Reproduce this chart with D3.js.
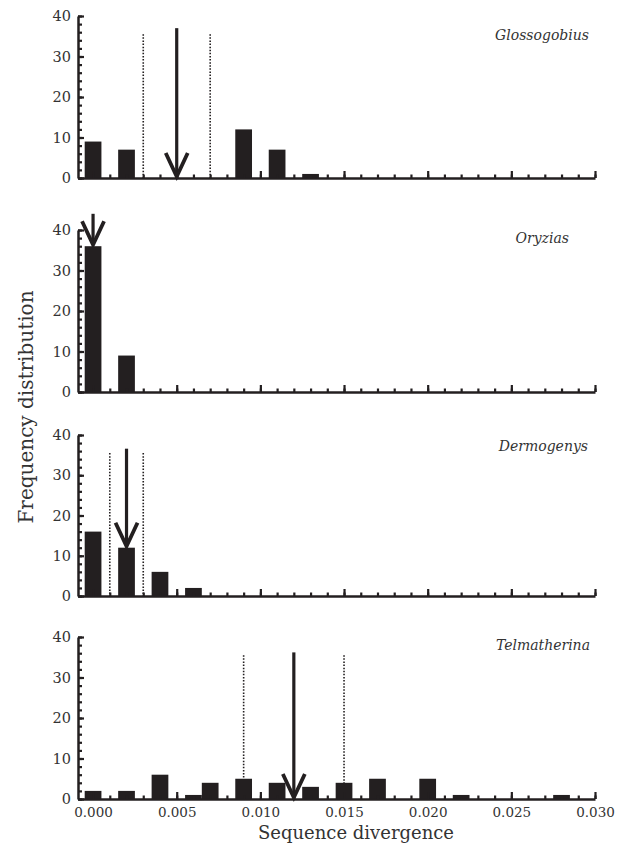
<!DOCTYPE html>
<html>
<head>
  <script src="https://d3js.org/d3.v7.min.js"></script>
  <style>
    body { margin: 0; background: #fff; }
    svg text { font-family: "DejaVu Serif", "Liberation Serif", serif; fill: #333; }
    .axis path, .axis line { stroke: #231f20; stroke-width: 2.2; }
    .axis .domain { stroke-width: 2.5; }
    .bar { fill: #231f20; }
    .ci { stroke: #231f20; stroke-width: 1.6; stroke-dasharray: 1.5,1.6; }
    .arrow { stroke: #231f20; fill: none; }
    .species { font-style: italic; font-size: 14px; }
  </style>
</head>
<body>
  <div id="chart"></div>
  <script>
    var w = 621;
    var h = 846;

    // data
    var species = ["Glossogobius", "Oryzias", "Dermogenys", "Telmatherina"];

    var glossoDiv = [0.000, 0.002, 0.009, 0.011, 0.013];
    var glossoFreq = [9, 7, 12, 7, 1];

    var oryziasDiv = [0.000, 0.002];
    var oryziasFreq = [36, 9];

    var dermoDiv = [0.000, 0.002, 0.004, 0.006];
    var dermoFreq = [16, 12, 6, 2];

    var telmaDiv = [0.000, 0.002, 0.004, 0.006, 0.007, 0.009, 0.011, 0.013, 0.015, 0.017, 0.020, 0.022, 0.028];
    var telmaFreq = [2, 2, 6, 1, 4, 5, 4, 3, 4, 5, 5, 1, 1];

    // mean divergence (arrow) and interval (dotted lines)
    var meanDiv = [0.005, 0.000, 0.002, 0.012];
    var arrowTop = [37, 44, 36.6, 36.2];
    var arrowTip = [0, 36, 12, 0];
    var ciLow = [0.003, null, 0.001, 0.009];
    var ciHigh = [0.007, null, 0.003, 0.015];
    var ciTop = 35.5;

    var yTicks = [0, 10, 20, 30, 40];
    var xTicks = [0.000, 0.005, 0.010, 0.015, 0.020, 0.025, 0.030];

    var divs = [glossoDiv, oryziasDiv, dermoDiv, telmaDiv];
    var freqs = [glossoFreq, oryziasFreq, dermoFreq, telmaFreq];

    // layout
    var panelBase = [178, 392, 596, 799];
    var panelTop = [16, 230, 435, 637];
    var labelRight = [589, 569, 588, 590];
    var labelY = [35, 238, 446, 645];
    var binW = 0.001;

    var svg = d3.select("#chart").append("svg")
      .attr("width", w)
      .attr("height", h);

    var x = d3.scaleLinear().domain([-0.0009, 0.030]).range([78, 595]);
    var minorX = d3.range(0, 31).map(i => i / 1000);
    var minorY = d3.range(0, 41, 2);

    species.forEach(function(name, p) {
      var y = d3.scaleLinear().domain([0, 40]).range([panelBase[p], panelTop[p]]);
      var g = svg.append("g");
      var data = divs[p].map((d, i) => ({ div: d, freq: freqs[p][i] }));

      // dotted interval lines
      [ciLow[p], ciHigh[p]].forEach(function(v) {
        if (v === null) return;
        g.append("line").attr("class", "ci")
          .attr("x1", x(v)).attr("x2", x(v))
          .attr("y1", y(ciTop)).attr("y2", y(0));
      });

      g.selectAll(".bar").data(data).enter().append("rect")
        .attr("class", "bar")
        .attr("x", d => x(d.div - binW / 2))
        .attr("width", d => x(binW) - x(0))
        .attr("y", d => y(d.freq))
        .attr("height", d => y(0) - y(d.freq));

      // x axis, ticks pointing up
      g.append("g").attr("class", "axis")
        .attr("transform", `translate(0,${panelBase[p]})`)
        .call(d3.axisBottom(x).tickValues(minorX).tickSizeInner(-3.5).tickSizeOuter(0).tickFormat(""));
      var xMajor = g.append("g").attr("class", "axis")
        .attr("transform", `translate(0,${panelBase[p]})`)
        .call(d3.axisBottom(x).tickValues(xTicks).tickSizeInner(-7).tickSizeOuter(0).tickPadding(8)
          .tickFormat(p === species.length - 1 ? d3.format(".3f") : ""));
      xMajor.select(".domain").remove();
      xMajor.selectAll("text").style("font-size", "13.5px").attr("fill", "#333");

      // y axis, ticks pointing right
      g.append("g").attr("class", "axis")
        .attr("transform", `translate(${x.range()[0]},0)`)
        .call(d3.axisLeft(y).tickValues(minorY).tickSizeInner(-4).tickSizeOuter(0).tickFormat(""));
      var yMajor = g.append("g").attr("class", "axis")
        .attr("transform", `translate(${x.range()[0]},0)`)
        .call(d3.axisLeft(y).tickValues(yTicks).tickSizeInner(-6).tickSizeOuter(0).tickPadding(7));
      yMajor.select(".domain").remove();
      yMajor.selectAll("text").style("font-size", "14.5px").attr("fill", "#333");

      // mean arrow
      var ax = x(meanDiv[p]);
      var tipY = y(arrowTip[p]);
      g.append("line").attr("class", "arrow")
        .attr("stroke-width", 3.2)
        .attr("x1", ax).attr("x2", ax)
        .attr("y1", y(arrowTop[p])).attr("y2", tipY - 3);
      g.append("path").attr("class", "arrow")
        .attr("stroke-width", 3.8)
        .attr("stroke-linejoin", "miter")
        .attr("d", `M${ax - 11},${tipY - 25}L${ax},${tipY - 1.5}L${ax + 11},${tipY - 25}`);

      g.append("text").attr("class", "species")
        .attr("x", labelRight[p])
        .attr("y", labelY[p])
        .attr("dy", "0.35em")
        .attr("text-anchor", "end")
        .text(name);
    });

    svg.append("text")
      .attr("x", 356)
      .attr("y", 839)
      .attr("text-anchor", "middle")
      .style("font-size", "18px")
      .text("Sequence divergence");

    svg.append("text")
      .attr("transform", "translate(33,407) rotate(-90)")
      .attr("text-anchor", "middle")
      .style("font-size", "20px")
      .text("Frequency distribution");
  </script>
</body>
</html>
